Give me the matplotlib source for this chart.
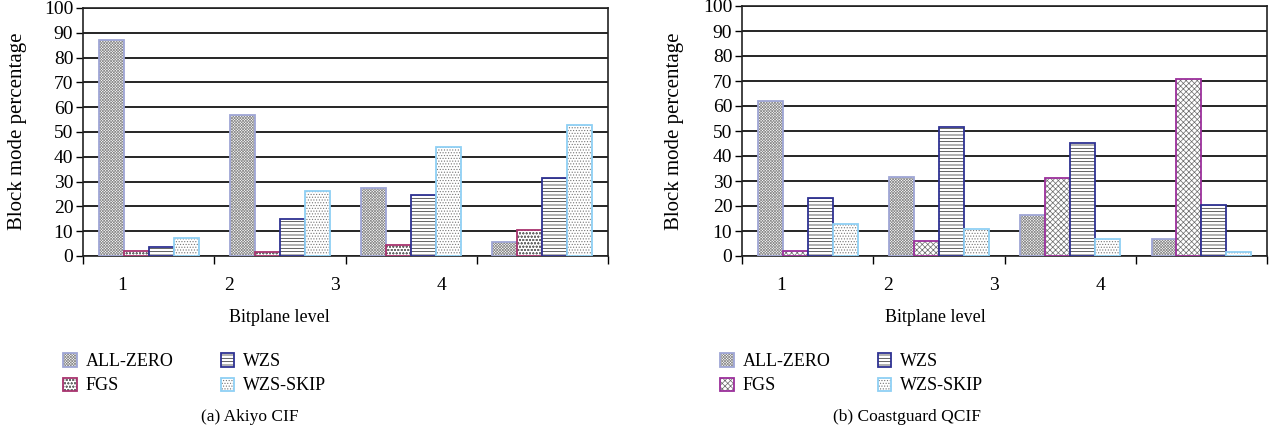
import numpy as np
import matplotlib
matplotlib.use("Agg")
import matplotlib.pyplot as plt
from matplotlib.patches import Patch

plt.rcParams['font.family'] = ['Liberation Serif', 'DejaVu Serif']
plt.rcParams['hatch.linewidth'] = 0.5

levels = ["1", "2", "3", "4"]
modes = ["ALL-ZERO", "FGS", "WZS", "WZS-SKIP"]

# Akiyo CIF
akiyo = {
    "ALL-ZERO": [87, 57, 27.5, 5.5],
    "FGS": [2.2, 1.7, 4.4, 10.5],
    "WZS": [3.8, 15, 24.7, 31.3],
    "WZS-SKIP": [7.1, 26.3, 44, 52.7],
}
# Coastguard QCIF
coast = {
    "ALL-ZERO": [62, 31.7, 16.5, 6.7],
    "FGS": [2, 6, 31.3, 71],
    "WZS": [23.2, 51.7, 45.3, 20.5],
    "WZS-SKIP": [12.8, 10.7, 6.9, 1.7],
}

edges = {"ALL-ZERO": "#9fa6d6", "FGS": "#a8336e", "WZS": "#2e3192", "WZS-SKIP": "#8fd0f5"}
hatch_a = {"ALL-ZERO": "x" * 12, "FGS": "o" * 5, "WZS": "-" * 5, "WZS-SKIP": "." * 6}
hatch_b = {"ALL-ZERO": "x" * 12, "FGS": "x" * 6, "WZS": "-" * 5, "WZS-SKIP": "." * 6}
hcol = {"ALL-ZERO": "#8a8a8a", "FGS": "#6a6a6a", "WZS": "#222222", "WZS-SKIP": "#777777"}

fig = plt.figure(figsize=(12.8, 4.33), dpi=100)
W, H = 1280, 433


def set_hatch_color(p, m):
    p._hatch_color = matplotlib.colors.to_rgba(hcol[m])


def panel(left, right, top, data, hatches, fgs_edge, xlab_x, leg_x, cap_x, cap, ylab_x):
    ax = fig.add_axes([left / W, 1 - 256 / H, (right - left) / W, (256 - top) / H])
    x = np.arange(len(levels))
    bw = 0.19
    for i, m in enumerate(modes):
        ec = fgs_edge if m == "FGS" else edges[m]
        bars = ax.bar(x + (i - 1.5) * bw, data[m], bw, facecolor="white",
                      edgecolor=ec, linewidth=1.3, zorder=3)
        for b in bars:
            b.set_hatch(hatches[m])
            set_hatch_color(b, m)
    ax.set_xlim(-0.5, 3.5)
    ax.set_ylim(0, 100)
    ax.set_yticks(np.arange(0, 101, 10))
    ax.grid(axis="y", color="black", linewidth=1.2, zorder=0)
    ax.set_axisbelow(True)
    ax.set_xticks(np.arange(-0.5, 3.6, 1))
    ax.set_xticklabels([])
    ax.set_xticks(-0.2 + 0.81 * x, minor=True)
    ax.set_xticklabels(levels, minor=True)
    ax.tick_params(axis="x", which="minor", length=0, pad=15, labelsize=14)
    ax.tick_params(axis="x", which="major", length=6, width=1, direction="out")
    ax.tick_params(axis="y", length=5, width=1, labelsize=14, pad=2)
    for s in ax.spines.values():
        s.set_linewidth(1.2)
        s.set_color("#222222")
    fig.text(ylab_x / W, 1 - 131 / H, "Block mode percentage", rotation=90,
             ha="center", va="center", fontsize=15)
    fig.text(xlab_x / W, 1 - 317 / H, "Bitplane level", ha="center", va="center", fontsize=13)
    handles = []
    for m in modes:
        ec = fgs_edge if m == "FGS" else edges[m]
        handles.append(Patch(facecolor="white", edgecolor=ec, hatch=hatches[m],
                             linewidth=1.3, label=m))
    leg = fig.legend(handles=handles, ncol=2, loc="upper left",
                     bbox_to_anchor=(leg_x / W, 1 - 337 / H), frameon=False,
                     fontsize=13, handlelength=0.75, handleheight=0.75,
                     handletextpad=0.5, columnspacing=2.6, labelspacing=0.4)
    for h, m in zip(leg.legend_handles, modes):
        set_hatch_color(h, m)
    fig.text(cap_x / W, 1 - 417 / H, cap, ha="center", va="center", fontsize=12.5)
    return ax


panel(83, 608, 8, akiyo, hatch_a, edges["FGS"], 279, 47, 250, "(a) Akiyo CIF", 18)
panel(742, 1267, 6, coast, hatch_b, "#9b2f9b", 935, 704, 907, "(b) Coastguard QCIF", 675)

fig.savefig("out.png", dpi=100)
